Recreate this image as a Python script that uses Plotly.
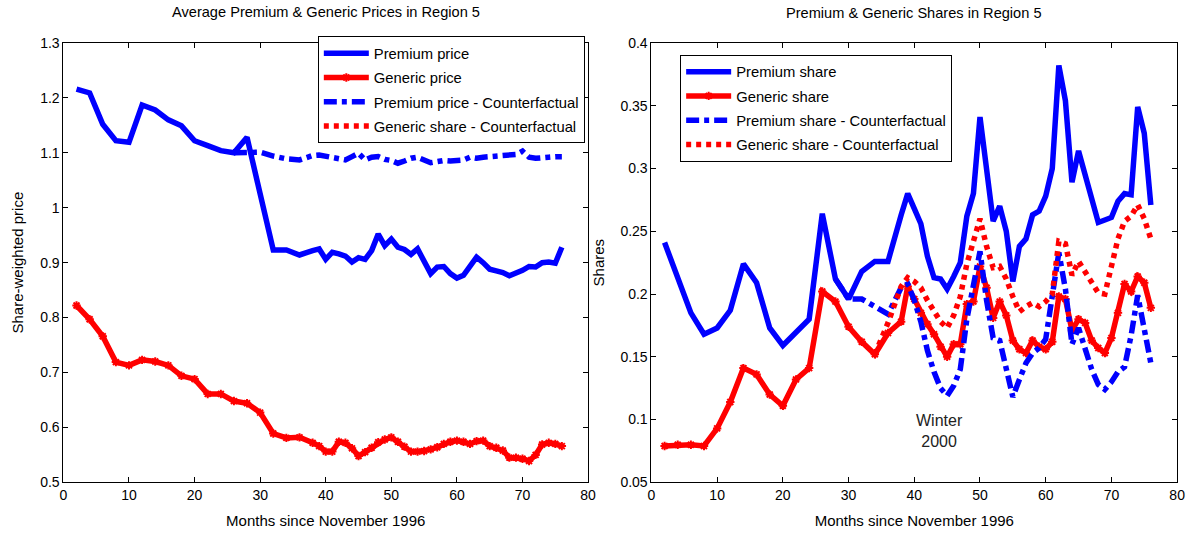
import plotly.graph_objects as go

# Month index: bimonthly through month 38, monthly afterwards
months = list(range(2, 39, 2)) + list(range(39, 77))

# ---- Prices (left panel) ----
premium_price = [1.216, 1.209, 1.152, 1.122, 1.119, 1.187, 1.178, 1.160, 1.149, 1.122,
                 1.113, 1.104, 1.100, 1.128, 1.025, 0.923, 0.923, 0.914, 0.922,
                 0.925, 0.906, 0.919, 0.916, 0.912, 0.901, 0.909, 0.906, 0.922, 0.952,
                 0.931, 0.943, 0.928, 0.924, 0.915, 0.925, 0.900, 0.880, 0.892, 0.893,
                 0.880, 0.872, 0.877, 0.895, 0.910, 0.900, 0.888, 0.885, 0.882, 0.876,
                 0.880, 0.886, 0.893, 0.892, 0.900, 0.901, 0.899, 0.928]

generic_price = [0.822, 0.797, 0.766, 0.719, 0.713, 0.723, 0.720, 0.713, 0.694, 0.688,
                 0.661, 0.661, 0.648, 0.644, 0.627, 0.589, 0.581, 0.582, 0.572,
                 0.566, 0.556, 0.556, 0.574, 0.572, 0.562, 0.548, 0.555, 0.563, 0.573,
                 0.578, 0.582, 0.574, 0.565, 0.556, 0.556, 0.557, 0.560, 0.564, 0.570,
                 0.574, 0.576, 0.574, 0.570, 0.575, 0.576, 0.566, 0.563, 0.558, 0.545,
                 0.545, 0.543, 0.539, 0.550, 0.569, 0.572, 0.570, 0.566]

premium_price_cf = [None] * 12 + [1.100, 1.100, 1.101, 1.094, 1.089, 1.087, 1.095,
                    1.096, 1.094, 1.091, 1.089, 1.087, 1.093, 1.099, 1.087, 1.092, 1.093,
                    1.088, 1.086, 1.081, 1.085, 1.090, 1.092, 1.086, 1.082, 1.084, 1.086,
                    1.085, 1.085, 1.087, 1.092, 1.090, 1.092, 1.093, 1.093, 1.094, 1.094,
                    1.097, 1.103, 1.092, 1.090, 1.090, 1.092, 1.093, 1.093]

# ---- Shares (right panel) ----
premium_share = [0.241, 0.212, 0.185, 0.168, 0.173, 0.187, 0.224, 0.209, 0.173, 0.159,
                 0.170, 0.180, 0.264, 0.212, 0.196, 0.218, 0.226, 0.226, 0.263,
                 0.280, 0.268, 0.256, 0.230, 0.213, 0.212, 0.204, 0.214, 0.225, 0.262,
                 0.280, 0.341, 0.300, 0.258, 0.270, 0.250, 0.210, 0.238, 0.244, 0.263,
                 0.266, 0.278, 0.300, 0.382, 0.354, 0.289, 0.314, 0.294, 0.275, 0.257,
                 0.259, 0.261, 0.274, 0.280, 0.279, 0.349, 0.328, 0.271]

generic_share = [0.079, 0.080, 0.080, 0.079, 0.093, 0.114, 0.141, 0.136, 0.120, 0.111,
                 0.132, 0.141, 0.202, 0.194, 0.174, 0.162, 0.152, 0.169, 0.178,
                 0.206, 0.196, 0.185, 0.176, 0.168, 0.158, 0.150, 0.160, 0.160, 0.192,
                 0.194, 0.222, 0.205, 0.181, 0.194, 0.183, 0.163, 0.156, 0.153, 0.163,
                 0.158, 0.156, 0.162, 0.198, 0.196, 0.171, 0.180, 0.177, 0.163, 0.157,
                 0.153, 0.165, 0.185, 0.208, 0.202, 0.214, 0.209, 0.189]

premium_share_cf = [None] * 13 + [0.212, 0.196, 0.196, 0.190, 0.184, 0.205,
                    0.208, 0.195, 0.178, 0.155, 0.138, 0.125, 0.119, 0.127, 0.140, 0.180,
                    0.205, 0.234, 0.195, 0.165, 0.163, 0.142, 0.118, 0.132, 0.145, 0.153,
                    0.157, 0.164, 0.200, 0.233, 0.204, 0.160, 0.173, 0.155, 0.140, 0.128,
                    0.124, 0.130, 0.138, 0.142, 0.167, 0.199, 0.170, 0.145]

generic_share_cf = [None] * 16 + [0.152, 0.177, 0.206,
                    0.213, 0.210, 0.205, 0.195, 0.186, 0.178, 0.173, 0.183, 0.198, 0.224,
                    0.242, 0.260, 0.238, 0.221, 0.222, 0.212, 0.198, 0.186, 0.190, 0.193,
                    0.190, 0.194, 0.200, 0.242, 0.240, 0.215, 0.226, 0.218, 0.208, 0.201,
                    0.200, 0.222, 0.244, 0.258, 0.262, 0.271, 0.260, 0.244]

x_ticks = list(range(0, 81, 10))
price_ticks = [0.5, 0.6, 0.7, 0.8, 0.9, 1.0, 1.1, 1.2, 1.3]
price_labels = ["0.5", "0.6", "0.7", "0.8", "0.9", "1", "1.1", "1.2", "1.3"]
share_ticks = [0.05, 0.1, 0.15, 0.2, 0.25, 0.3, 0.35, 0.4]
share_labels = ["0.05", "0.1", "0.15", "0.2", "0.25", "0.3", "0.35", "0.4"]

BLUE = "#0000ff"
RED = "#ff0000"
FONT = "Liberation Sans, Arial, sans-serif"
LW = 5.5
DASHDOT = "13px,5px,5px,5px"
DOTTED = "5px,5px"
gen_marker = dict(symbol="asterisk-open", size=7, color=RED, line=dict(color=RED, width=2))

fig = go.Figure()


def add(x, y, name, color, legend, xa, ya, dash=None, markers=False, group=""):
    fig.add_trace(go.Scatter(
        x=x, y=y, name=name,
        mode="lines+markers" if markers else "lines",
        line=dict(color=color, width=LW, dash=dash),
        marker=gen_marker if markers else None,
        legend=legend, legendgroup=group, xaxis=xa, yaxis=ya,
    ))


# Left panel
add(months, premium_price, "Premium price", BLUE, "legend", "x", "y", group="a1")
add(months, generic_price, "Generic price", RED, "legend", "x", "y", markers=True, group="a2")
add(months, premium_price_cf, "Premium price - Counterfactual", BLUE, "legend", "x", "y",
    dash=DASHDOT, group="a3")
add([None], [None], "Generic share - Counterfactual", RED, "legend", "x", "y",
    dash=DOTTED, group="a4")

# Right panel
add(months, premium_share, "Premium share", BLUE, "legend2", "x2", "y2", group="b1")
add(months, generic_share, "Generic share", RED, "legend2", "x2", "y2", markers=True, group="b2")
add(months, premium_share_cf, "Premium share - Counterfactual", BLUE, "legend2", "x2", "y2",
    dash=DASHDOT, group="b3")
add(months, generic_share_cf, "Generic share - Counterfactual", RED, "legend2", "x2", "y2",
    dash=DOTTED, group="b4")

axis_common = dict(showgrid=False, zeroline=False, showline=True, linecolor="black",
                   linewidth=1, mirror="ticks", ticks="inside", ticklen=5,
                   tickcolor="black", tickfont=dict(family=FONT, size=14, color="black"))

W, H = 1197, 535
y_dom = [1 - 489 / H, 1 - 36 / H]
title_font = dict(family=FONT, size=15, color="black")
legend_common = dict(xanchor="left", yanchor="top", bgcolor="white", bordercolor="black",
                     borderwidth=1, font=dict(family=FONT, size=14.8, color="black"),
                     itemwidth=45, tracegroupgap=2)

fig.update_layout(
    width=W, height=H,
    margin=dict(l=0, r=0, t=0, b=0),
    paper_bgcolor="white", plot_bgcolor="white",
    font=dict(family=FONT, color="black"),
    xaxis=dict(domain=[60 / W, 590 / W], range=[0, 80], tickvals=x_ticks, anchor="y",
               title=dict(text="Months since November 1996", font=title_font, standoff=13),
               **axis_common),
    yaxis=dict(domain=y_dom, range=[0.5, 1.3], tickvals=price_ticks, ticktext=price_labels,
               anchor="x", title=dict(text="Share-weighted price", font=title_font, standoff=12),
               **axis_common),
    xaxis2=dict(domain=[654 / W, 1185 / W], range=[0, 80], tickvals=x_ticks, anchor="y2",
                title=dict(text="Months since November 1996", font=title_font, standoff=13),
                **axis_common),
    yaxis2=dict(domain=y_dom, range=[0.05, 0.4], tickvals=share_ticks, ticktext=share_labels,
                anchor="x2", title=dict(text="Shares", font=title_font, standoff=12),
                **axis_common),
    legend=dict(x=317 / W, y=1 - 29 / H, **legend_common),
    legend2=dict(x=683 / W, y=1 - 48 / H, **legend_common),
    annotations=[
        dict(text="Average Premium & Generic Prices in Region 5", x=325 / W, y=1 - 4 / H,
             xref="paper", yref="paper", xanchor="center", yanchor="middle",
             showarrow=False, font=dict(family=FONT, size=14.6, color="black")),
        dict(text="Premium & Generic Shares in Region 5", x=919 / W, y=1 - 5 / H,
             xref="paper", yref="paper", xanchor="center", yanchor="middle",
             showarrow=False, font=dict(family=FONT, size=14.6, color="black")),
        dict(text="Winter<br>2000", x=43.8, y=0.091, xref="x2", yref="y2", showarrow=False,
             xanchor="center", yanchor="middle", font=dict(family=FONT, size=16, color="#222222")),
    ],
)

fig.write_html("out.html")
